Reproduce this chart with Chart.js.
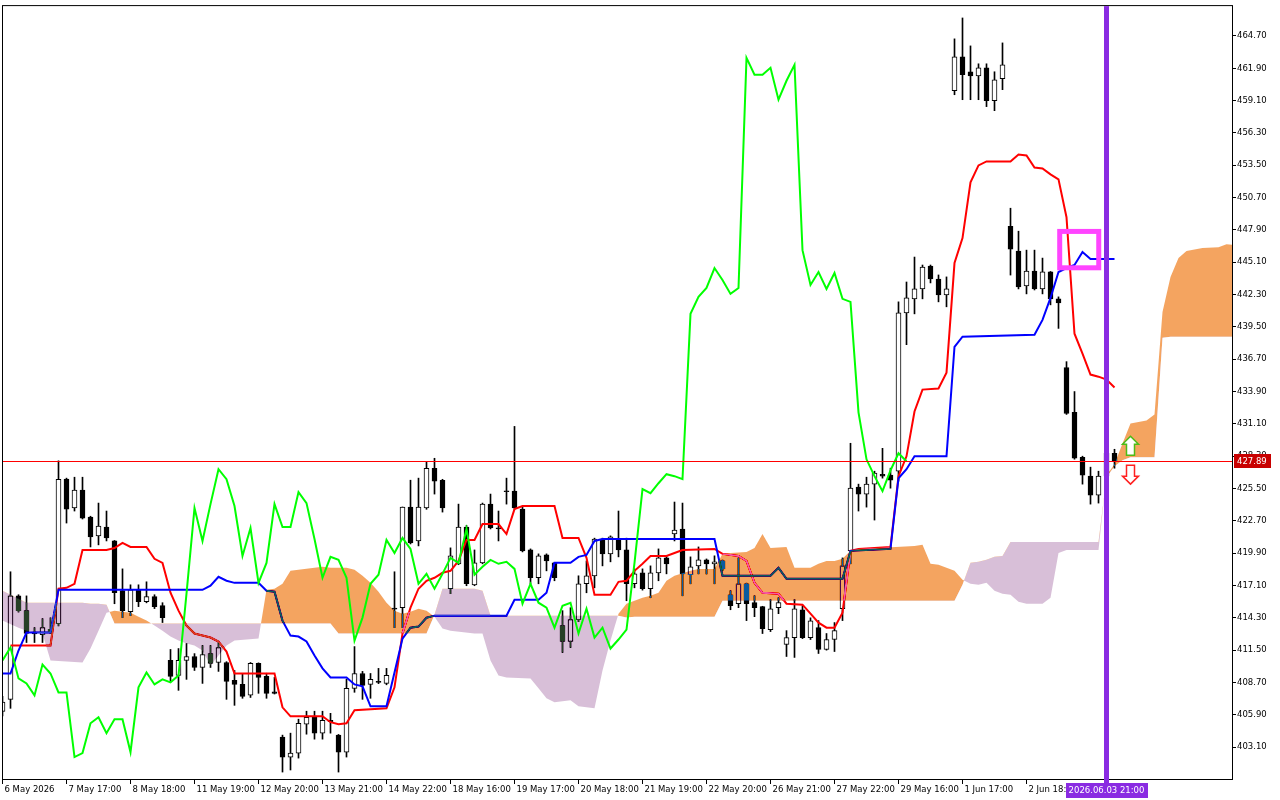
<!DOCTYPE html>
<html>
<head>
<meta charset="utf-8">
<title>Ichimoku H1</title>
<script src="https://cdn.jsdelivr.net/npm/chart.js@4.4.1/dist/chart.umd.min.js"></script>
<style>
  html, body { margin: 0; padding: 0; background: #fff; }
  #wrap { width: 1280px; height: 800px; }
</style>
</head>
<body>
<div id="wrap"><canvas id="ichimoku" width="1280" height="800"></canvas></div>
<script>
// H1 candles, one entry per bar (bar 0 = 6 May 2026)
const OPEN = [
  406.20, 407.24, 416.21, 414.92, 413.00, 412.85, 413.30, 413.80, 426.31, 423.81,
  425.36, 423.03, 421.39, 422.17, 420.96, 416.65, 414.83, 416.73, 415.70, 416.13,
  415.35, 410.61, 409.31, 410.61, 410.95, 410.00, 411.20, 410.43, 410.43, 408.88,
  408.54, 407.59, 410.35, 409.23, 407.90, 403.96, 402.24, 402.58, 405.08, 405.69,
  404.31, 405.43, 404.14, 402.67, 408.19, 409.48, 408.54, 408.79, 408.62, 415.15,
  415.18, 423.89, 420.96, 423.81, 427.26, 426.22, 416.82, 418.98, 422.17, 417.16,
  419.06, 424.15, 422.10, 425.30, 425.27, 423.72, 420.18, 417.77, 419.75, 419.06,
  413.63, 412.25, 414.14, 417.25, 417.94, 421.13, 419.84, 421.05, 420.18, 417.25,
  418.20, 416.82, 418.20, 419.49, 421.56, 421.99, 418.03, 418.80, 419.32, 418.98,
  419.23, 416.30, 415.52, 417.25, 415.61, 415.27, 413.28, 415.18, 411.99, 412.59,
  415.00, 412.59, 413.45, 411.56, 412.42, 415.09, 420.10, 425.62, 425.02, 425.88,
  426.74, 426.66, 427.00, 440.72, 441.93, 442.79, 444.77, 443.65, 442.27, 459.96,
  462.89, 461.60, 461.25, 461.94, 459.10, 461.00, 448.22, 446.07, 443.05, 444.34,
  442.79, 444.26, 441.93, 435.97, 432.09, 428.20, 426.57, 424.93, 426.60, 428.55
];
const HIGH = [
  407.50, 418.29, 416.30, 416.20, 413.45, 414.23, 414.30, 427.90, 426.40, 426.48,
  426.48, 423.10, 424.24, 423.55, 421.00, 418.54, 417.16, 417.16, 417.42, 416.30,
  415.61, 411.56, 411.64, 412.07, 411.20, 411.90, 411.90, 412.16, 410.50, 409.74,
  409.48, 410.43, 410.40, 409.50, 409.14, 404.14, 404.31, 405.52, 406.21, 406.21,
  406.21, 406.03, 404.20, 408.97, 411.81, 409.66, 409.48, 409.92, 409.92, 418.29,
  423.90, 426.22, 426.40, 427.78, 428.12, 426.30, 420.36, 424.15, 422.30, 420.18,
  424.24, 425.02, 423.55, 426.40, 430.88, 423.90, 420.27, 419.84, 419.84, 419.10,
  414.92, 415.18, 417.94, 419.23, 421.20, 421.20, 421.40, 423.55, 421.20, 418.54,
  418.54, 418.80, 420.27, 419.67, 424.33, 424.24, 419.58, 420.44, 419.40, 419.67,
  419.30, 416.65, 419.49, 417.30, 416.21, 415.30, 415.87, 416.04, 413.19, 415.87,
  415.35, 414.30, 414.06, 412.94, 413.89, 419.49, 429.42, 425.88, 426.48, 427.00,
  428.98, 427.26, 441.67, 443.39, 445.55, 444.86, 444.86, 444.00, 443.83, 464.45,
  466.26, 463.84, 462.29, 462.29, 461.60, 464.10, 449.78, 447.79, 446.15, 446.15,
  445.46, 444.30, 442.10, 436.49, 433.90, 428.30, 427.35, 427.00, 428.90, 428.90
];
const LOW = [
  405.80, 406.46, 414.80, 412.16, 412.16, 412.16, 412.94, 413.60, 422.51, 423.55,
  422.86, 420.44, 420.62, 420.96, 415.52, 414.32, 414.49, 415.27, 415.60, 415.10,
  413.89, 408.79, 408.02, 408.97, 409.74, 408.62, 410.00, 409.66, 407.24, 406.72,
  407.33, 407.40, 407.76, 407.33, 407.70, 400.94, 401.12, 402.15, 404.22, 403.79,
  403.79, 404.31, 400.94, 402.24, 407.85, 407.24, 407.33, 408.60, 408.50, 413.45,
  413.45, 420.70, 420.53, 423.70, 425.02, 423.46, 416.39, 418.90, 417.08, 417.08,
  418.98, 422.00, 420.96, 424.15, 423.70, 420.01, 417.25, 417.25, 418.37, 417.51,
  411.30, 411.73, 413.97, 416.47, 416.90, 418.80, 419.15, 419.58, 415.78, 416.90,
  416.70, 416.04, 417.51, 418.11, 420.96, 416.21, 417.25, 418.11, 418.10, 417.25,
  418.40, 415.00, 415.18, 414.06, 414.40, 412.94, 413.11, 414.66, 410.95, 410.87,
  412.50, 412.42, 411.21, 411.50, 411.38, 414.06, 418.98, 423.55, 423.89, 422.77,
  426.40, 425.53, 426.14, 437.96, 440.63, 441.93, 443.31, 441.67, 441.24, 459.61,
  459.18, 459.18, 459.18, 458.58, 458.23, 460.05, 443.99, 442.79, 442.36, 442.70,
  442.36, 441.41, 439.37, 431.92, 428.04, 425.88, 424.15, 424.24, 426.30, 427.26
];
const CLOSE = [
  407.00, 416.21, 414.92, 412.94, 412.90, 413.45, 413.10, 426.30, 423.72, 425.36,
  422.94, 421.30, 422.25, 421.22, 416.47, 414.92, 416.73, 415.70, 416.13, 415.27,
  414.32, 409.23, 410.61, 410.95, 410.00, 411.12, 410.35, 411.73, 408.79, 408.54,
  407.50, 410.35, 409.14, 407.76, 407.76, 402.24, 402.58, 405.17, 405.69, 404.31,
  405.43, 405.30, 402.67, 408.19, 409.48, 408.45, 408.97, 408.70, 409.31, 415.05,
  423.89, 420.79, 423.89, 427.26, 426.14, 423.81, 419.67, 422.17, 417.25, 419.06,
  424.15, 422.08, 422.00, 425.22, 423.81, 420.10, 417.77, 419.67, 419.23, 417.77,
  412.25, 414.14, 417.25, 417.94, 421.13, 419.84, 421.31, 420.18, 417.25, 418.11,
  416.82, 418.20, 419.49, 418.98, 421.91, 418.11, 418.72, 419.32, 418.98, 419.15,
  418.54, 415.35, 417.25, 415.52, 415.18, 413.37, 415.09, 415.61, 412.59, 415.09,
  412.59, 414.03, 411.56, 412.42, 413.19, 418.80, 425.53, 425.02, 425.88, 426.83,
  426.57, 426.22, 440.72, 442.01, 442.79, 444.69, 443.65, 442.27, 442.79, 462.89,
  461.34, 461.25, 461.94, 459.10, 460.91, 462.20, 446.24, 442.96, 444.34, 442.79,
  444.26, 441.93, 441.58, 432.00, 428.12, 426.66, 424.93, 426.57, 428.55, 427.86
];

// Tenkan-sen / Kijun-sen: [bar, price] at each corner of the line
const TENKAN = [
  [1, 411.90], [6, 411.90], [7, 416.82], [8, 416.90], [9, 417.25], [10, 420.18], [13, 420.18],
  [14, 420.35], [15, 420.79], [16, 420.44], [18, 420.44], [19, 419.41], [20, 419.06], [21, 416.47],
  [22, 414.92], [23, 413.63], [24, 412.94], [26, 412.59], [27, 412.25], [28, 411.38], [29, 409.48],
  [34, 409.48], [35, 406.55], [36, 405.77], [40, 405.77], [41, 405.26], [42, 405.08], [43, 405.17],
  [44, 406.29], [48, 406.46], [49, 408.28], [50, 412.94], [51, 415.18], [52, 416.82], [53, 417.51],
  [54, 417.77], [55, 418.20], [56, 418.37], [57, 419.23], [58, 421.04], [59, 421.04], [60, 422.42],
  [62, 422.42], [63, 421.56], [64, 423.72], [65, 423.98], [69, 423.98], [70, 421.22], [72, 421.22],
  [73, 419.49], [74, 416.30], [76, 416.30], [77, 417.42], [78, 417.51], [79, 418.37], [80, 418.98],
  [81, 419.66], [83, 419.66], [84, 419.92], [85, 420.18], [89, 420.27], [90, 419.84], [92, 419.66],
  [93, 419.23], [94, 417.33], [95, 416.47], [97, 416.39], [98, 415.52], [100, 415.44], [101, 414.66],
  [102, 413.88], [103, 413.45], [104, 413.45], [105, 414.75], [106, 420.10], [107, 420.27], [111, 420.44],
  [112, 426.57], [113, 428.29], [114, 432.17], [115, 434.07], [117, 434.16], [118, 435.54], [119, 445.03],
  [120, 447.19], [121, 452.02], [122, 453.49], [123, 453.83], [126, 453.83], [127, 454.44], [128, 454.35],
  [129, 453.31], [130, 453.23], [131, 452.71], [132, 452.28], [133, 449.00], [134, 438.91], [135, 437.18],
  [136, 435.37], [137, 435.19], [138, 434.94], [139, 434.25]
];
const KIJUN = [
  [0, 409.48], [1, 409.48], [2, 411.47], [3, 413.02], [6, 413.02], [7, 416.73], [25, 416.73],
  [26, 417.08], [27, 417.85], [28, 417.51], [29, 417.33], [32, 417.33], [33, 416.64], [34, 416.56],
  [35, 414.06], [36, 412.76], [37, 412.68], [38, 412.25], [39, 411.04], [40, 409.92], [41, 409.14],
  [43, 409.14], [44, 408.53], [45, 408.36], [46, 406.64], [48, 406.64], [49, 409.57], [50, 412.50],
  [51, 413.45], [52, 413.54], [53, 414.31], [54, 414.49], [63, 414.49], [64, 415.87], [67, 415.87],
  [68, 416.47], [69, 419.06], [71, 419.06], [72, 419.58], [73, 419.75], [74, 420.96], [75, 421.13],
  [89, 421.13], [90, 417.94], [96, 417.94], [97, 418.63], [98, 417.68], [105, 417.68], [106, 420.10],
  [111, 420.27], [112, 426.39], [113, 427.17], [114, 428.29], [118, 428.29], [119, 437.78], [120, 438.65],
  [129, 438.82], [130, 440.11], [131, 442.01], [132, 444.25], [133, 444.60], [134, 444.86], [135, 445.98],
  [136, 445.38], [139, 445.38]
];

// Chikou span, one value per bar from bar 0
const CHIKOU = [
  410.60, 411.73, 409.05, 408.62, 407.58, 410.26, 409.48, 407.84, 407.84, 402.24,
  402.58, 405.17, 405.69, 404.31, 405.51, 405.51, 402.67, 408.28, 409.57, 408.53,
  408.97, 408.71, 409.31, 416.39, 423.81, 420.96, 424.15, 427.17, 426.31, 423.98,
  419.66, 422.08, 417.33, 419.06, 424.15, 422.17, 422.17, 425.19, 424.24, 421.13,
  417.77, 419.58, 419.32, 417.77, 412.33, 414.32, 417.25, 418.03, 421.05, 419.92,
  421.22, 420.27, 417.25, 418.11, 416.82, 418.11, 419.49, 419.06, 421.99, 418.03,
  418.72, 419.32, 418.98, 419.15, 418.54, 415.52, 417.25, 415.61, 415.18, 413.45,
  415.35, 415.61, 412.94, 415.09, 412.59, 413.45, 411.64, 412.42, 413.28, 419.06,
  425.45, 425.10, 425.96, 426.74, 426.57, 426.31, 440.63, 442.10, 442.87, 444.60,
  443.56, 442.36, 442.87, 462.80, 461.34, 461.34, 461.94, 459.18, 460.82, 462.20,
  446.15, 443.13, 444.25, 442.79, 444.17, 441.93, 441.67, 432.10, 428.03, 426.57,
  425.27, 427.08, 428.55, 427.86
];

// Kumo: bar positions and both senkou spans at those bars
const CLOUD_BAR = [
  0, 2, 3, 5, 6, 10, 11, 12, 13, 14, 16, 17, 18, 19, 20, 21, 22, 23, 24, 25,
  26, 27, 28, 29, 32, 33, 34, 35, 36, 40, 41, 42, 43, 44, 45, 46, 47, 48, 49, 50,
  51, 52, 53, 54, 55, 56, 59, 60, 61, 62, 63, 66, 67, 68, 69, 71, 72, 74, 75, 76,
  77, 78, 79, 80, 81, 82, 83, 84, 86, 87, 89, 90, 91, 93, 94, 95, 96, 98, 99, 101,
  102, 103, 104, 105, 106, 107, 114, 115, 116, 117, 118, 119, 120, 121, 122, 123, 124, 125, 126, 127,
  128, 130, 131, 132, 133, 137, 138, 139, 140, 141, 143, 144, 145, 146, 147, 148, 150, 152, 153, 154
];
const SPAN_A = [
  414.06, 413.45, 413.19, 412.94, 410.60, 410.43, 411.64, 413.19, 414.75, 414.92,
  414.75, 414.40, 414.06, 413.63, 413.19, 412.68, 412.33, 412.07, 411.90, 411.47,
  410.17, 411.04, 411.90, 412.33, 412.50, 416.73, 416.82, 417.25, 418.37, 418.72,
  418.63, 418.63, 418.63, 418.46, 417.94, 417.33, 416.56, 415.61, 414.92, 414.66,
  414.83, 415.09, 414.92, 414.40, 413.37, 413.19, 412.94, 412.94, 410.60, 409.31,
  409.14, 409.05, 408.19, 407.33, 406.98, 407.15, 406.64, 406.46, 409.74, 412.33,
  414.66, 415.52, 415.78, 416.04, 416.21, 416.47, 417.51, 417.94, 418.37, 418.54,
  418.54, 419.84, 419.92, 420.01, 420.35, 421.56, 420.35, 420.44, 418.63, 418.63,
  418.98, 419.23, 419.23, 419.41, 420.10, 420.27, 420.53, 420.62, 418.98, 418.89,
  418.63, 418.37, 417.59, 417.25, 417.17, 417.34, 416.65, 416.39, 416.30, 415.70,
  415.52, 415.52, 416.04, 419.92, 420.18, 420.18, 426.65, 427.60, 429.41, 431.14,
  431.40, 431.92, 440.80, 443.82, 445.46, 446.07, 446.33, 446.41, 446.67, 446.59
];
const SPAN_B = [
  416.65, 415.95, 415.61, 415.61, 415.61, 415.61, 415.52, 415.52, 415.44, 413.80,
  413.80, 413.80, 413.80, 413.80, 413.80, 413.80, 413.80, 413.80, 413.80, 413.80,
  413.80, 413.80, 413.80, 413.80, 413.80, 413.80, 413.80, 413.80, 413.80, 413.80,
  413.80, 412.94, 412.94, 412.94, 412.94, 412.94, 412.94, 412.94, 412.94, 412.94,
  412.94, 412.94, 412.94, 414.57, 416.82, 416.82, 416.82, 416.64, 414.49, 414.49,
  414.49, 414.49, 414.49, 414.49, 414.49, 414.49, 414.49, 414.49, 414.49, 414.49,
  414.49, 414.32, 414.40, 414.40, 414.40, 414.40, 414.40, 414.40, 414.40, 414.40,
  414.40, 415.78, 415.78, 415.78, 415.78, 415.78, 415.78, 415.78, 415.78, 415.78,
  415.78, 415.78, 415.78, 415.78, 415.78, 415.78, 415.78, 415.78, 415.78, 415.78,
  415.78, 415.78, 417.17, 419.06, 419.15, 419.32, 419.58, 419.66, 420.87, 420.87,
  420.87, 420.87, 420.87, 420.87, 420.87, 420.87, 426.48, 427.43, 427.95, 428.21,
  428.21, 428.21, 438.56, 438.65, 438.65, 438.65, 438.65, 438.65, 438.65, 438.65
];

// axis labels
const TIME_LABELS = [
  '6 May 2026', '7 May 17:00', '8 May 18:00', '11 May 19:00', '12 May 20:00', '13 May 21:00',
  '14 May 22:00', '18 May 16:00', '19 May 17:00', '20 May 18:00', '21 May 19:00', '22 May 20:00',
  '26 May 21:00', '27 May 22:00', '29 May 16:00', '1 Jun 17:00', '2 Jun 18:00'
];
const LABEL_STEP = 8;
const PRICE_TICKS = [
  403.10, 405.90, 408.70, 411.50, 414.30, 417.10, 419.90, 422.70, 425.50, 428.30, 431.10, 433.90,
  436.70, 439.50, 442.30, 445.10, 447.90, 450.70, 453.50, 456.30, 459.10, 461.90, 464.70
];

// objects on the chart
const BID = 427.89;
const CURSOR_BAR = 138;
const CURSOR_LABEL = '2026.06.03 21:00';
const MARKER_BOX = [132.15, 137.03, 447.77, 444.62];   // bar from, bar to, price top, price bottom
const SIGNALS = [
  { bar: 141, tip: 430.02, tail: 428.38, color: '#4CBB17' },
  { bar: 141, tip: 425.88, tail: 427.52, color: '#FF2020' }
];

const FONT = { family: 'DejaVu Sans', size: 8.5 };
const FONT_CSS = '8.5px "DejaVu Sans"';

const wicks = HIGH.map((h, i) => ({ x: i, y: [LOW[i], h] }));
const bodies = OPEN.map((o, i) => ({ x: i, y: [o, CLOSE[i]] }));
const bodyFill = OPEN.map((o, i) => (CLOSE[i] >= o ? '#ffffff' : '#000000'));
const toPoints = pairs => pairs.map(([x, y]) => ({ x, y }));
const spanA = CLOUD_BAR.map((b, k) => ({ x: b, y: SPAN_A[k] }));
const spanB = CLOUD_BAR.map((b, k) => ({ x: b, y: SPAN_B[k] }));
const chikou = CHIKOU.map((v, i) => ({ x: i, y: v }));

function arrowPath(ctx, cx, yTip, yTail) {
    const dir = yTail > yTip ? 1 : -1;
    const headH = 8, headW = 16, shaftW = 8;
    const yNeck = yTip + dir * headH;
    ctx.beginPath();
    ctx.moveTo(cx, yTip);
    ctx.lineTo(cx + headW / 2, yNeck);
    ctx.lineTo(cx + shaftW / 2, yNeck);
    ctx.lineTo(cx + shaftW / 2, yTail);
    ctx.lineTo(cx - shaftW / 2, yTail);
    ctx.lineTo(cx - shaftW / 2, yNeck);
    ctx.lineTo(cx - headW / 2, yNeck);
    ctx.closePath();
}

// MT5 paints the kumo with XOR; 'difference' with the inverted colours gives the same result
const overlay = {
    id: 'overlay',
    beforeDraw(chart) {
        const ctx = chart.ctx;
        ctx.save();
        ctx.fillStyle = '#ffffff';
        ctx.fillRect(0, 0, chart.width, chart.height);
        ctx.restore();
    },
    beforeDatasetDraw(chart, args) {
        if (args.index === 1) chart.ctx.globalCompositeOperation = 'difference';
    },
    afterDatasetDraw(chart, args) {
        if (args.index === 0) chart.ctx.globalCompositeOperation = 'source-over';
    },
    afterDatasetsDraw(chart) {
        // bid line
        const { ctx, chartArea: a, scales: { y } } = chart;
        const py = Math.round(y.getPixelForValue(BID));
        ctx.save();
        ctx.globalCompositeOperation = 'source-over';
        ctx.fillStyle = '#FF0000';
        ctx.fillRect(a.left, py, a.right - a.left, 1);
        ctx.restore();
    },
    afterDraw(chart) {
        const { ctx, chartArea: a, scales: { x, y } } = chart;
        ctx.save();
        ctx.globalCompositeOperation = 'source-over';

        // frame
        ctx.strokeStyle = '#000';
        ctx.lineWidth = 1;
        ctx.strokeRect(a.left - 0.5, a.top - 0.5, a.right - a.left + 1, a.bottom - a.top + 1);

        // rectangle object
        const [b0, b1, pTop, pBot] = MARKER_BOX;
        const rx = x.getPixelForValue(b0), ry = y.getPixelForValue(pTop);
        ctx.strokeStyle = '#FF44FF';
        ctx.lineWidth = 5;
        ctx.strokeRect(rx, ry, x.getPixelForValue(b1) - rx, y.getPixelForValue(pBot) - ry);

        // signal arrows
        SIGNALS.forEach(s => {
            arrowPath(ctx, x.getPixelForValue(s.bar), y.getPixelForValue(s.tip), y.getPixelForValue(s.tail));
            ctx.fillStyle = '#ffffff';
            ctx.fill();
            ctx.strokeStyle = s.color;
            ctx.lineWidth = 1.5;
            ctx.stroke();
        });

        // vertical cursor line and its time label
        const cx = x.getPixelForValue(CURSOR_BAR);
        ctx.fillStyle = '#8A2BE2';
        ctx.fillRect(Math.round(cx - 2.5), a.top, 5, a.bottom - a.top + 4);
        ctx.font = FONT_CSS;
        const tw = ctx.measureText(CURSOR_LABEL).width + 6;
        ctx.fillRect(Math.round(cx - tw / 2), a.bottom + 4, Math.round(tw), 15);
        ctx.fillStyle = '#ffffff';
        ctx.textAlign = 'center';
        ctx.textBaseline = 'middle';
        ctx.fillText(CURSOR_LABEL, cx, a.bottom + 11.5);

        // bid price label
        const by = Math.round(y.getPixelForValue(BID));
        ctx.fillStyle = '#C80000';
        ctx.fillRect(a.right + 2, by - 7, 37, 14);
        ctx.fillStyle = '#ffffff';
        ctx.textAlign = 'left';
        ctx.fillText(BID.toFixed(2), a.right + 5, by + 0.5);
        ctx.restore();
    }
};

document.addEventListener('DOMContentLoaded', () => {
    const canvas = document.getElementById('ichimoku');

    new Chart(canvas, {
        type: 'bar',
        data: {
            datasets: [
                {
                    type: 'line', label: 'Senkou Span A', data: spanA,
                    borderColor: 'rgba(0,0,0,0)', borderWidth: 0, pointRadius: 0, tension: 0,
                    fill: { target: '+1', above: '#0B5B9F', below: '#274027' },
                    order: 1
                },
                {
                    type: 'line', label: 'Senkou Span B', data: spanB,
                    borderColor: 'rgba(0,0,0,0)', borderWidth: 0, pointRadius: 0, tension: 0,
                    fill: false, order: 2
                },
                {
                    type: 'line', label: 'Chikou Span', data: chikou,
                    borderColor: '#00FF00', borderWidth: 2, pointRadius: 0, tension: 0,
                    fill: false, order: 0
                },
                {
                    type: 'line', label: 'Kijun-sen', data: toPoints(KIJUN),
                    borderColor: '#0000FF', borderWidth: 2, pointRadius: 0, tension: 0,
                    fill: false, order: 3
                },
                {
                    type: 'line', label: 'Tenkan-sen', data: toPoints(TENKAN),
                    borderColor: '#FF0000', borderWidth: 2, pointRadius: 0, tension: 0,
                    fill: false, order: 4
                },
                {
                    type: 'bar', label: 'Body', data: bodies,
                    backgroundColor: bodyFill, borderColor: '#000000', borderWidth: 1,
                    borderSkipped: false, barThickness: 5, minBarLength: 1, grouped: false,
                    order: 5
                },
                {
                    type: 'bar', label: 'Wick', data: wicks,
                    backgroundColor: '#000000', borderWidth: 0,
                    barThickness: 1, grouped: false, order: 6
                }
            ]
        },
        options: {
            responsive: false,
            animation: false,
            events: [],
            devicePixelRatio: 1,
            layout: { autoPadding: false, padding: { left: 3, top: 3, right: 0, bottom: 0 } },
            scales: {
                x: {
                    type: 'linear',
                    min: 0.0625,
                    max: 153.6875,
                    offset: false,
                    afterBuildTicks: scale => {
                        scale.ticks = TIME_LABELS.map((_, k) => ({ value: k * LABEL_STEP }));
                    },
                    afterFit: scale => { scale.height = 21; },
                    ticks: {
                        autoSkip: false, maxRotation: 0, minRotation: 0,
                        align: 'start', labelOffset: 2, padding: 1,
                        color: '#000', font: FONT,
                        callback: value => TIME_LABELS[Math.round(value / LABEL_STEP)]
                    },
                    grid: { offset: false, drawOnChartArea: false, drawTicks: true, tickLength: 5, color: '#000' },
                    border: { display: false }
                },
                y: {
                    type: 'linear',
                    position: 'right',
                    min: 400.339,
                    max: 467.288,
                    afterBuildTicks: scale => {
                        scale.ticks = PRICE_TICKS.map(v => ({ value: v }));
                    },
                    afterFit: scale => { scale.width = 48; },
                    ticks: {
                        padding: 1, color: '#000', font: FONT,
                        callback: value => value.toFixed(2)
                    },
                    grid: { drawOnChartArea: false, drawTicks: true, tickLength: 4, color: '#000' },
                    border: { display: false }
                }
            },
            plugins: {
                legend: { display: false },
                tooltip: { enabled: false }
            }
        },
        plugins: [overlay]
    });
});
</script>
</body>
</html>
